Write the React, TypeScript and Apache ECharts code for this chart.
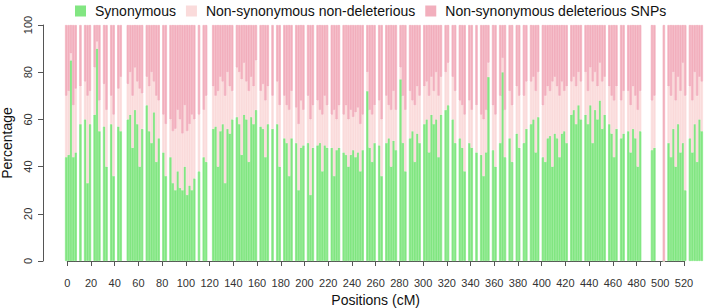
import React, { useEffect, useRef } from "react";
import * as echarts from "echarts";

// Each bin is 2 cM wide; bin i covers [2i-2, 2i) cM. null = no SNP data (white gap).
const synonymous: (number | null)[] = [
  44, 45, 85, 44, 46, null, 58, null, 60, 33,
  58, null, 62, 90, 55, null, 57, 40, null, 58,
  36, null, 57, 55, null, null, 60, 62, 48, 64,
  58, 40, 56, null, 66, 55, 50, 63, 42, 52,
  null, 46, 36, null, 44, 33, 30, 38, 31, 30,
  40, 28, 32, 30, 35, null, 38, null, 44, 42,
  null, null, 56, 57, 40, 55, 58, 33, 56, 54,
  60, null, 61, 58, 45, 62, 60, 42, 61, 58,
  64, null, 57, 56, 44, 58, null, 56, null, 58,
  40, null, 52, 50, 36, 52, null, 50, 30, 48,
  49, null, 50, 28, 48, null, 49, 50, 38, 49,
  48, null, 48, 36, 47, 48, null, 46, 45, 40,
  45, 47, 44, 46, 38, 47, null, 72, 48, 42,
  50, null, 49, 36, null, 50, 52, 40, 51, 47,
  null, 77, 50, 38, null, 52, 55, 42, 54, 50,
  null, 58, 60, 46, 62, 58, 60, 44, 62, null,
  64, 66, null, 60, 50, null, 52, 48, 38, null,
  50, 48, null, 46, null, 45, 36, 46, 78, null,
  47, 40, null, 50, 80, 44, null, 52, 42, null,
  54, 48, null, 50, 56, null, 58, 60, 46, 61,
  null, 44, 42, 52, 53, 40, 54, 52, 44, 54,
  55, 50, null, 62, 64, 58, 66, 60, null, 62,
  58, 66, 50, 64, 60, 68, 56, 62, null, 58,
  54, 44, 56, null, 52, 54, null, 55, 46, 56,
  52, 40, 55, null, null, null, null, 47, 48, null,
  null, null, 0, null, 50, 44, 56, 40, 58, 46,
  50, 30, null, 52, 46, 58, 42, 60, 55,
];

const nonSynNonDeleterious: (number | null)[] = [
  26, 27, 3, 22, 27, null, 16, null, 16, 37,
  14, null, 20, 3, 13, null, 18, 24, null, 12,
  26, null, 16, 23, null, null, 15, 18, 22, 18,
  18, 33, 15, null, 12, 19, 30, 13, 28, 16,
  null, 16, 22, null, 16, 22, 26, 26, 29, 24,
  26, 27, 26, 32, 25, null, 24, null, 20, 28,
  null, null, 18, 13, 32, 23, 18, 37, 24, 20,
  12, null, 21, 22, 32, 22, 16, 30, 17, 16,
  21, null, 15, 19, 24, 16, null, 14, null, 18,
  26, null, 18, 16, 28, 20, null, 15, 28, 20,
  15, null, 20, 32, 18, null, 19, 14, 24, 21,
  18, null, 14, 28, 13, 18, null, 16, 21, 20,
  19, 14, 19, 19, 20, 15, null, 8, 16, 20,
  16, null, 19, 24, null, 20, 14, 24, 21, 17,
  null, 5, 20, 26, null, 20, 13, 24, 20, 20,
  null, 16, 16, 24, 16, 14, 20, 26, 16, null,
  16, 18, null, 18, 22, null, 16, 18, 24, null,
  18, 16, null, 20, null, 17, 24, 18, 6, null,
  19, 22, null, 20, 6, 20, null, 20, 24, null,
  20, 22, null, 20, 20, null, 18, 18, 26, 19,
  null, 22, 28, 22, 19, 36, 24, 22, 26, 22,
  17, 24, null, 14, 14, 16, 14, 16, null, 18,
  14, 16, 26, 16, 14, 16, 20, 16, null, 16,
  16, 24, 18, null, 16, 18, null, 17, 20, 18,
  18, 24, 17, null, null, null, null, 21, 22, null,
  null, null, 0, null, 24, 26, 24, 28, 20, 26,
  34, 40, null, 22, 22, 22, 28, 18, 21,
];

const xTickStep = 20; // cM
const xTickMax = 520;
const yTicks = [0, 20, 40, 60, 80, 100];

const COLORS = { syn: "#82E682", nsnd: "#FADBDB", del: "#F2AFBD" };
const FONT = "'Liberation Sans', Arial, sans-serif";

export default function App() {
  const ref = useRef<HTMLDivElement>(null);

  useEffect(() => {
    if (!ref.current) return;
    const chart = echarts.init(ref.current, undefined, { renderer: "svg" });

    const binCentres = synonymous.map((_, i) => String(2 * i - 1));
    const deleterious = synonymous.map((s, i) =>
      s === null ? null : 100 - s - (nonSynNonDeleterious[i] as number)
    );

    const barCommon = {
      type: "bar" as const,
      stack: "pct",
      xAxisIndex: 0,
      yAxisIndex: 0,
      barCategoryGap: "0%",
      barWidth: "100%",
      animation: false,
    };

    chart.setOption({
      animation: false,
      legend: {
        data: ["Synonymous", "Non-synonymous non-deleterious", "Non-synonymous deleterious SNPs"],
        left: 70,
        top: -1,
        icon: "rect",
        itemWidth: 9,
        itemHeight: 9,
        itemGap: 10,
        selectedMode: false,
        textStyle: { fontSize: 14, fontFamily: FONT, color: "#111", padding: [0, 0, 0, 5] },
      },
      grid: [
        { left: 65, top: 25, width: 638, height: 236, outerBoundsMode: "none", containLabel: false },
        { left: 67.3, top: 25, width: 616.7, height: 236, outerBoundsMode: "none", containLabel: false },
      ],
      xAxis: [
        {
          type: "category",
          gridIndex: 0,
          data: binCentres,
          show: false,
        },
        {
          type: "value",
          gridIndex: 1,
          min: 0,
          max: xTickMax,
          interval: xTickStep,
          offset: 5,
          axisLine: { show: true, lineStyle: { color: "#555" } },
          axisTick: { show: true, length: 5, lineStyle: { color: "#555" } },
          axisLabel: { fontSize: 11, color: "#333", fontFamily: FONT, margin: 11 },
          splitLine: { show: false },
          name: "Positions (cM)",
          nameLocation: "middle",
          nameGap: 27,
          nameTextStyle: { fontSize: 14, color: "#111", fontFamily: FONT },
        },
      ],
      yAxis: [
        {
          type: "value",
          gridIndex: 0,
          min: yTicks[0],
          max: yTicks[yTicks.length - 1],
          interval: 20,
          offset: 22,
          axisLine: { show: true, lineStyle: { color: "#555" } },
          axisTick: { show: true, length: 5, lineStyle: { color: "#555" } },
          axisLabel: { rotate: 90, fontSize: 11, color: "#333", fontFamily: FONT, margin: 10 },
          splitLine: { show: false },
          name: "Percentage",
          nameLocation: "middle",
          nameRotate: 90,
          nameGap: 25,
          nameTextStyle: { fontSize: 14, color: "#111", fontFamily: FONT },
        },
        { type: "value", gridIndex: 1, min: 0, max: 100, show: false },
      ],
      series: [
        {
          ...barCommon,
          name: "Synonymous",
          data: synonymous,
          itemStyle: { color: COLORS.syn, borderColor: COLORS.syn, borderWidth: 0.7 },
        },
        {
          ...barCommon,
          name: "Non-synonymous non-deleterious",
          data: nonSynNonDeleterious,
          itemStyle: { color: COLORS.nsnd, borderColor: COLORS.nsnd, borderWidth: 0.7 },
        },
        {
          ...barCommon,
          name: "Non-synonymous deleterious SNPs",
          data: deleterious,
          itemStyle: { color: COLORS.del, borderColor: COLORS.del, borderWidth: 0.7 },
        },
      ],
    });

    return () => chart.dispose();
  }, []);

  return (
    <div
      ref={ref}
      style={{ position: "fixed", left: 0, top: 0, width: 713, height: 308, background: "#fff" }}
    />
  );
}
